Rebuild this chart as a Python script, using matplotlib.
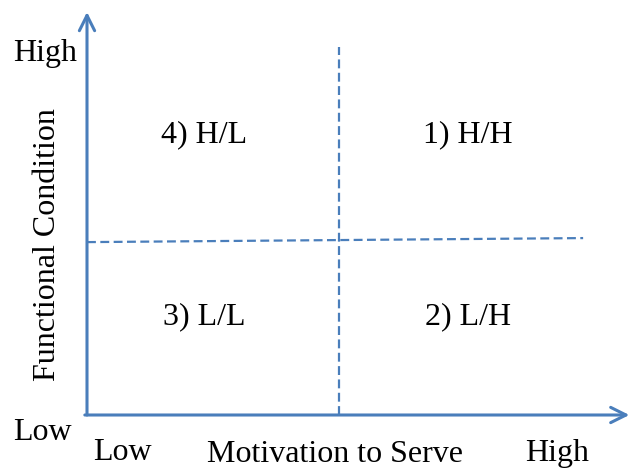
import matplotlib.pyplot as plt

plt.rcParams['font.family'] = ['Liberation Serif', 'DejaVu Serif']

# quadrant labels and their positions (in "low..high" units 0..1)
quad_labels = ['1) H/H', '2) L/H', '3) L/L', '4) H/L']
quad_x = [0.70, 0.70, 0.215, 0.215]
quad_y = [0.695, 0.243, 0.243, 0.695]

# dividing lines
split_x = 0.463
split_y_left, split_y_right = 0.429, 0.439
line_end_x = 0.912
line_top_y = 0.913

blue = '#4a7ebb'

fig = plt.figure(figsize=(6.31, 4.70), dpi=100)
ax = fig.add_axes([87 / 631, 55 / 470, 544 / 631, 403 / 470])
ax.set_xlim(0, 1)
ax.set_ylim(0, 1)
ax.axis('off')

# axes with open arrow heads
arr = dict(arrowstyle='->,head_length=1.1,head_width=0.55', color=blue, lw=2.2,
           shrinkA=0, shrinkB=0)
ax.annotate('', xy=(0, 1.0), xytext=(0, 0), arrowprops=arr, annotation_clip=False)
ax.annotate('', xy=(0.997, 0), xytext=(-0.004, 0), arrowprops=arr, annotation_clip=False)

# dashed dividers
ax.plot([split_x, split_x], [0, line_top_y], ls='--', color=blue, lw=1.6, dashes=(4, 2))
ax.plot([0, line_end_x], [split_y_left, split_y_right], ls='--', color=blue, lw=1.6, dashes=(4, 2))

fs = 23
for lab, x, y in zip(quad_labels, quad_x, quad_y):
    ax.text(x, y, lab, fontsize=fs, ha='center', va='center')

fig.text(45 / 631, 1 - 53 / 470, 'High', fontsize=fs, ha='center', va='center')
fig.text(42 / 631, 1 - 433 / 470, 'Low', fontsize=fs, ha='center', va='center')
fig.text(122 / 631, 1 - 452 / 470, 'Low', fontsize=fs, ha='center', va='center')
fig.text(557 / 631, 1 - 454 / 470, 'High', fontsize=fs, ha='center', va='center')
fig.text(335 / 631, 1 - 454 / 470, 'Motivation to Serve', fontsize=fs, ha='center', va='center')
fig.text(48 / 631, 1 - 245 / 470, 'Functional Condition', fontsize=fs, ha='center',
         va='center', rotation=90)

fig.savefig('out.png', dpi=100)
